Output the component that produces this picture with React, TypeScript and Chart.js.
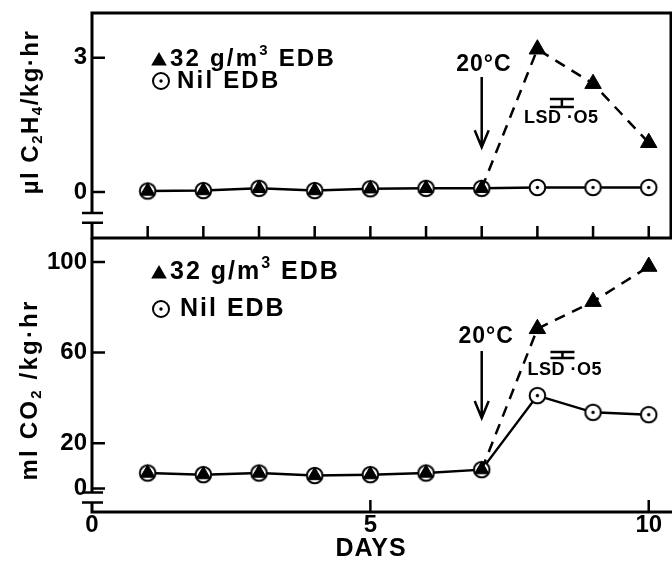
import { useEffect, useRef } from 'react';
import { Chart, registerables } from 'chart.js';

Chart.register(...registerables);

// ---------- data ----------
const days = [1, 2, 3, 4, 5, 6, 7, 8, 9, 10];
const ethyleneEDB = [0.02, 0.03, 0.08, 0.03, 0.07, 0.08, 0.08, 3.19, 2.42, 1.1];
const ethyleneNil = [0.02, 0.03, 0.08, 0.03, 0.07, 0.08, 0.08, 0.1, 0.1, 0.1];
const co2EDB = [6.8, 6.1, 6.8, 5.7, 6.1, 6.8, 8.3, 70.5, 82.5, 98];
const co2Nil = [6.8, 6.1, 6.8, 5.7, 6.1, 6.8, 8.3, 41, 33.6, 32.6];
const xTickLabels = [0, 5, 10];
const ethyleneTickLabels = [0, 3];
const ethyleneTickMarks = [0, 1, 2, 3];
const co2TickLabels = [0, 20, 60, 100];
const co2TickMarks = [0, 20, 40, 60, 80, 100];
const legendEDB: [string, number][] = [['32 g/m', 0], ['3', 1], [' EDB', 0]];
const legendNil: [string, number][] = [['Nil EDB', 0]];
const ethyleneTitle: [string, number][] = [['µl C', 0], ['2', -1], ['H', 0], ['4', -1], ['/kg·hr', 0]];
const co2Title: [string, number][] = [['ml CO', 0], ['2', -1], [' /kg·hr', 0]];
const xTitle = 'DAYS';
const tempLabel = '20°C';
const lsdLabel = 'LSD ·O5';

const FONT = "'Liberation Sans', Arial, Helvetica, sans-serif";
const XMIN = 0;
const XMAX = 10.4;

type Ann = {
  arrowX: number; arrowFrom: number; arrowTo: number;
  labelX: number; labelY: number;
  lsdX: number; lsdTop: number; lsdBottom: number; lsdLabelX: number; lsdLabelY: number;
  breaks: number[];
};

const topAnn: Ann = {
  arrowX: 7, arrowFrom: 2.57, arrowTo: 1.0, labelX: 7.04, labelY: 2.84,
  lsdX: 8.44, lsdTop: 2.08, lsdBottom: 1.9, lsdLabelX: 8.43, lsdLabelY: 1.65,
  breaks: [-0.47, -0.69],
};
const botAnn: Ann = {
  arrowX: 7, arrowFrom: 60.7, arrowTo: 31.1, labelX: 7.08, labelY: 66.9,
  lsdX: 8.45, lsdTop: 60.3, lsdBottom: 57.6, lsdLabelX: 8.49, lsdLabelY: 52.4,
  breaks: [-1.8, -6.2],
};

function makeDotCircle(r: number): HTMLCanvasElement {
  const size = Math.ceil(r * 2 + 5);
  const c = document.createElement('canvas');
  c.width = size;
  c.height = size;
  const g = c.getContext('2d')!;
  const m = size / 2;
  g.beginPath();
  g.arc(m, m, r, 0, Math.PI * 2);
  g.fillStyle = '#fff';
  g.fill();
  g.lineWidth = 2;
  g.strokeStyle = '#000';
  g.stroke();
  g.beginPath();
  g.arc(m, m, 1.7, 0, Math.PI * 2);
  g.fillStyle = '#000';
  g.fill();
  return c;
}

function drawTriangle(ctx: CanvasRenderingContext2D, x: number, y: number, r: number) {
  let rad = 0;
  ctx.beginPath();
  for (let i = 0; i < 3; i++) {
    const px = x + Math.sin(rad) * r;
    const py = y - Math.cos(rad) * r;
    if (i === 0) ctx.moveTo(px, py);
    else ctx.lineTo(px, py);
    rad += (Math.PI * 2) / 3;
  }
  ctx.closePath();
  ctx.fillStyle = '#000';
  ctx.fill();
}

function drawDotCircle(ctx: CanvasRenderingContext2D, x: number, y: number, r: number) {
  ctx.beginPath();
  ctx.arc(x, y, r, 0, Math.PI * 2);
  ctx.fillStyle = '#fff';
  ctx.fill();
  ctx.lineWidth = 2;
  ctx.strokeStyle = '#000';
  ctx.stroke();
  ctx.beginPath();
  ctx.arc(x, y, 1.7, 0, Math.PI * 2);
  ctx.fillStyle = '#000';
  ctx.fill();
}

function setSpacing(ctx: any, s: number) {
  if ('letterSpacing' in ctx) ctx.letterSpacing = s + 'px';
}

// pieces: [text, shift] where shift 0 = normal, 1 = superscript, -1 = subscript
function drawRich(
  ctx: CanvasRenderingContext2D,
  pieces: [string, number][],
  x0: number,
  y0: number,
  size: number,
  spacing: number,
  align: 'left' | 'center',
  rotate: boolean
) {
  ctx.save();
  ctx.translate(x0, y0);
  if (rotate) ctx.rotate(-Math.PI / 2);
  ctx.fillStyle = '#000';
  ctx.textBaseline = 'middle';
  ctx.textAlign = 'left';
  setSpacing(ctx, spacing);
  const small = Math.round(size * 0.62);
  const widths: number[] = [];
  let total = 0;
  for (const [t, s] of pieces) {
    ctx.font = `bold ${s ? small : size}px ${FONT}`;
    const w = ctx.measureText(t).width;
    widths.push(w);
    total += w;
  }
  let x = align === 'center' ? -total / 2 : 0;
  pieces.forEach(([t, s], i) => {
    ctx.font = `bold ${s ? small : size}px ${FONT}`;
    const dy = s === 1 ? -size * 0.32 : s === -1 ? size * 0.28 : 0;
    ctx.fillText(t, x, dy);
    x += widths[i];
  });
  ctx.restore();
}

function makeDecorPlugin(kind: 'top' | 'bottom') {
  const ann = kind === 'top' ? topAnn : botAnn;
  const marks = kind === 'top' ? ethyleneTickMarks : co2TickMarks;
  return {
    id: 'decor-' + kind,
    afterDatasetsDraw(chart: any) {
      const ctx: CanvasRenderingContext2D = chart.ctx;
      const { left, right, top, bottom } = chart.chartArea;
      const xs = chart.scales.x;
      const ys = chart.scales.y;
      ctx.save();
      ctx.strokeStyle = '#000';
      ctx.lineCap = 'butt';

      // frame
      ctx.lineWidth = 3;
      ctx.beginPath();
      const b0 = ys.getPixelForValue(ann.breaks[0]);
      const b1 = ys.getPixelForValue(ann.breaks[1]);
      if (kind === 'top') {
        ctx.moveTo(left - 1.5, top);
        ctx.lineTo(right + 1.5, top);
        ctx.moveTo(right, top);
        ctx.lineTo(right, bottom + 1.5);
        ctx.moveTo(left - 1.5, bottom);
        ctx.lineTo(right, bottom);
        ctx.moveTo(left, top - 1.5);
        ctx.lineTo(left, b0);
        ctx.moveTo(left, b1);
        ctx.lineTo(left, bottom);
      } else {
        ctx.moveTo(left - 1.5, bottom);
        ctx.lineTo(chart.width, bottom);
        ctx.moveTo(left, top);
        ctx.lineTo(left, b0);
        ctx.moveTo(left, b1);
        ctx.lineTo(left, bottom + 1.5);
      }
      ctx.stroke();

      // axis break marks and tick marks
      ctx.lineWidth = 2.5;
      ctx.beginPath();
      for (const py of [b0, b1]) {
        ctx.moveTo(left - 10, py);
        ctx.lineTo(left + 11, py);
      }
      for (const t of ys.ticks) {
        if (marks.includes(t.value)) {
          const py = ys.getPixelForValue(t.value);
          ctx.moveTo(left, py);
          ctx.lineTo(left + 13, py);
        }
      }
      for (const t of xs.ticks) {
        if (t.value >= 1 && Number.isInteger(t.value)) {
          const px = xs.getPixelForValue(t.value);
          ctx.moveTo(px, bottom);
          ctx.lineTo(px, bottom - 12);
        }
      }
      ctx.stroke();

      // temperature arrow
      const ax = xs.getPixelForValue(ann.arrowX);
      const ay1 = ys.getPixelForValue(ann.arrowFrom);
      const ay2 = ys.getPixelForValue(ann.arrowTo);
      ctx.lineWidth = 2.5;
      ctx.beginPath();
      ctx.moveTo(ax, ay1);
      ctx.lineTo(ax, ay2);
      ctx.moveTo(ax - 7, ay2 - 17);
      ctx.lineTo(ax, ay2);
      ctx.lineTo(ax + 7, ay2 - 17);
      ctx.stroke();

      ctx.fillStyle = '#000';
      ctx.textAlign = 'center';
      ctx.textBaseline = 'middle';
      ctx.font = `bold 23px ${FONT}`;
      setSpacing(ctx, 1);
      ctx.fillText(tempLabel, xs.getPixelForValue(ann.labelX), ys.getPixelForValue(ann.labelY));

      // LSD bar
      const lx = xs.getPixelForValue(ann.lsdX);
      const la = ys.getPixelForValue(ann.lsdTop);
      const lb = ys.getPixelForValue(ann.lsdBottom);
      ctx.beginPath();
      ctx.lineWidth = 2.5;
      ctx.moveTo(lx - 12, la);
      ctx.lineTo(lx + 12, la);
      ctx.moveTo(lx - 12, lb);
      ctx.lineTo(lx + 12, lb);
      ctx.moveTo(lx, la);
      ctx.lineTo(lx, lb);
      ctx.stroke();
      ctx.font = `bold 18px ${FONT}`;
      setSpacing(ctx, 0.5);
      ctx.fillText(lsdLabel, xs.getPixelForValue(ann.lsdLabelX), ys.getPixelForValue(ann.lsdLabelY));
      setSpacing(ctx, 0);

      // legend
      const big = kind === 'top' ? 24 : 25;
      const sp = kind === 'top' ? 2.2 : 2;
      const row1 = kind === 'top' ? 59 : 272;
      const row2 = kind === 'top' ? 81 : 309;
      drawTriangle(ctx, 159, row1 + 2, 9);
      drawDotCircle(ctx, 161, row2, 8);
      drawRich(ctx, legendEDB, 170, row1, big, sp, 'left', false);
      drawRich(ctx, legendNil, kind === 'top' ? 177 : 180, row2, big, sp, 'left', false);

      // axis titles
      if (kind === 'top') {
        drawRich(ctx, ethyleneTitle, 31, 112, 24, 1.5, 'center', true);
      } else {
        drawRich(ctx, co2Title, 30, 390, 24, 2.2, 'center', true);
        ctx.font = `bold 25px ${FONT}`;
        ctx.textAlign = 'center';
        ctx.textBaseline = 'middle';
        ctx.fillStyle = '#000';
        setSpacing(ctx, 1);
        ctx.fillText(xTitle, 371, 549);
      }
      ctx.restore();
    },
  };
}

function noPad(s: any) {
  s.paddingTop = 0;
  s.paddingBottom = 0;
  s.paddingLeft = 0;
  s.paddingRight = 0;
}

function makeConfig(kind: 'top' | 'bottom', dot: HTMLCanvasElement): any {
  const edb = kind === 'top' ? ethyleneEDB : co2EDB;
  const nil = kind === 'top' ? ethyleneNil : co2Nil;
  const yLabels = kind === 'top' ? ethyleneTickLabels : co2TickLabels;
  const tickFont = { family: FONT, size: 24, weight: 'bold', lineHeight: 1 };
  return {
    type: 'line',
    data: {
      datasets: [
        {
          label: '32 g/m³ EDB',
          data: days.map((d, i) => ({ x: d, y: edb[i] })),
          borderColor: '#000',
          borderWidth: 2.5,
          tension: 0,
          pointStyle: 'triangle',
          pointRadius: (c: any) => (c.dataIndex < 7 ? 8.3 : 9.5),
          pointBackgroundColor: '#000',
          pointBorderColor: '#000',
          pointBorderWidth: 1,
          segment: {
            borderColor: (c: any) => (c.p0DataIndex < 6 ? 'rgba(0,0,0,0)' : '#000'),
            borderDash: (c: any) => (c.p0DataIndex < 6 ? undefined : [11, 8]),
          },
          clip: false,
        },
        {
          label: 'Nil EDB',
          data: days.map((d, i) => ({ x: d, y: nil[i] })),
          borderColor: '#000',
          borderWidth: 2.5,
          tension: 0,
          pointStyle: dot,
          pointRadius: 8,
          clip: false,
        },
      ],
    },
    options: {
      animation: false,
      responsive: false,
      devicePixelRatio: 1,
      events: [],
      layout: {
        autoPadding: false,
        padding: kind === 'top'
          ? { top: 13, bottom: 328, left: 0, right: 1 }
          : { top: 238, bottom: 24, left: 0, right: 1 },
      },
      plugins: { legend: { display: false }, tooltip: { enabled: false } },
      scales: {
        x: kind === 'top'
          ? { type: 'linear', display: false, min: XMIN, max: XMAX, afterFit: noPad, ticks: { stepSize: 1, includeBounds: false } }
          : {
              type: 'linear',
              min: XMIN,
              max: XMAX,
              afterFit: (s: any) => { s.height = 30; noPad(s); },
              grid: { display: false, drawTicks: false },
              border: { display: false },
              ticks: {
                stepSize: 1,
                includeBounds: false,
                autoSkip: false,
                maxRotation: 0,
                padding: 1,
                color: '#000',
                font: tickFont,
                callback: (v: number) => (xTickLabels.includes(v) ? String(v) : null),
              },
            },
        y: {
          type: 'linear',
          min: kind === 'top' ? -1.03 : -10.4,
          max: kind === 'top' ? 4.0 : 110.6,
          afterFit: (s: any) => { s.width = 92; noPad(s); },
          grid: { display: false, drawTicks: false },
          border: { display: false },
          ticks: {
            stepSize: kind === 'top' ? 1 : 20,
            includeBounds: false,
            autoSkip: false,
            padding: 5,
            color: '#000',
            font: tickFont,
            callback: (v: number) => (yLabels.includes(v) ? String(v) : null),
          },
        },
      },
    },
    plugins: [makeDecorPlugin(kind)],
  };
}

export default function App() {
  const topRef = useRef<HTMLCanvasElement>(null);
  const botRef = useRef<HTMLCanvasElement>(null);
  useEffect(() => {
    const dot = makeDotCircle(7.8);
    const c1 = new Chart(topRef.current!, makeConfig('top', dot));
    const c2 = new Chart(botRef.current!, makeConfig('bottom', dot));
    return () => {
      c1.destroy();
      c2.destroy();
    };
  }, []);
  return (
    <div style={{ position: 'absolute', left: 0, top: 0, width: 672, height: 566, background: '#fff' }}>
      <canvas ref={topRef} width={672} height={566} style={{ position: 'absolute', left: 0, top: 0 }} />
      <canvas ref={botRef} width={672} height={566} style={{ position: 'absolute', left: 0, top: 0 }} />
    </div>
  );
}
